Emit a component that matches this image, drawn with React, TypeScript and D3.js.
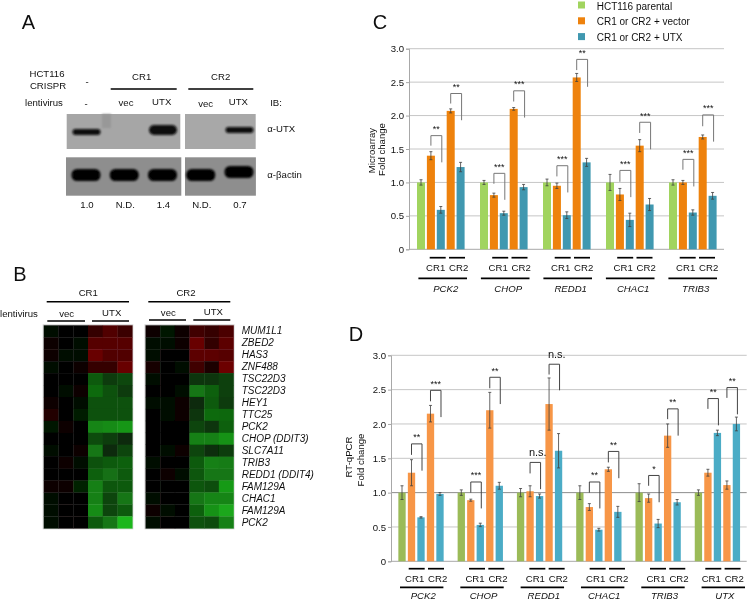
import React, { useEffect, useRef } from "react";
import * as d3 from "d3";

const FONT = "'Liberation Sans', Arial, sans-serif";
const TEXT = "#111";

// panel A
const blotLanes = ["parental", "CR1 vec", "CR1 UTX", "CR2 vec", "CR2 UTX"];
const utxLevels = [1.0, 0, 1.4, 0, 0.7];
const utxLabels = ["1.0", "N.D.", "1.4", "N.D.", "0.7"];

// panel B
const heatGenes = [
  "MUM1L1", "ZBED2", "HAS3", "ZNF488", "TSC22D3", "TSC22D3", "HEY1", "TTC25", "PCK2",
  "CHOP (DDIT3)", "SLC7A11", "TRIB3", "REDD1 (DDIT4)", "FAM129A", "CHAC1", "FAM129A", "PCK2",
];
const heatCR1 = [
  [-0.05, 0.03, 0.02, 0.5, 0.75, 0.55],
  [0.1, 0.05, -0.04, 0.8, 0.8, 0.8],
  [0.15, -0.04, -0.04, 0.95, 0.75, 0.75],
  [-0.04, -0.03, 0.08, 0.5, 0.5, 0.95],
  [0, -0.03, 0.05, -0.42, -0.27, -0.33],
  [0, -0.04, 0.08, -0.5, -0.38, -0.27],
  [0.1, 0.02, -0.07, -0.38, -0.38, -0.38],
  [0.3, 0.02, -0.12, -0.38, -0.38, -0.38],
  [-0.1, 0.1, 0.03, -0.62, -0.65, -0.7],
  [0, 0.03, 0.03, -0.35, -0.28, -0.2],
  [-0.06, 0.05, 0.07, -0.55, -0.2, -0.32],
  [-0.02, 0.08, -0.05, -0.38, -0.42, -0.45],
  [-0.01, 0.06, -0.03, -0.45, -0.52, -0.42],
  [0.13, 0.13, -0.16, -0.6, -0.4, -0.42],
  [-0.05, 0.04, -0.02, -0.6, -0.32, -0.55],
  [-0.05, 0.04, 0, -0.65, -0.32, -0.42],
  [-0.08, 0.04, 0.06, -0.42, -0.55, -0.85],
];
const heatCR2 = [
  [0.1, -0.1, 0.1, 0.6, 0.5, 0.7],
  [-0.04, -0.06, 0.1, 0.95, 0.45, 0.85],
  [-0.05, 0.06, 0.03, 0.85, 0.85, 0.8],
  [0.2, -0.03, -0.05, 0.6, 0.25, 1],
  [-0.05, 0.05, 0.02, -0.25, -0.25, -0.3],
  [0.05, 0.05, -0.04, -0.55, -0.45, -0.3],
  [-0.04, -0.05, 0.1, -0.2, -0.42, -0.27],
  [-0.03, -0.04, 0.1, -0.25, -0.5, -0.48],
  [-0.02, -0.01, 0, -0.32, -0.25, -0.45],
  [-0.02, 0.03, 0.01, -0.6, -0.6, -0.68],
  [-0.02, -0.06, 0.08, -0.32, -0.22, -0.28],
  [-0.05, 0.06, 0.01, -0.42, -0.6, -0.58],
  [0.02, 0.08, -0.08, -0.4, -0.55, -0.55],
  [0.03, -0.03, 0, -0.4, -0.36, -0.72],
  [-0.06, 0.06, 0, -0.55, -0.62, -0.62],
  [0.08, -0.04, -0.02, -0.45, -0.68, -0.78],
  [-0.05, 0.06, 0, -0.38, -0.35, -0.6],
];

// panels C and D
const seriesNames = ["HCT116 parental", "CR1 or CR2 + vector", "CR1 or CR2 + UTX"];
const barSlots = ["parental", "CR1 vec", "CR1 UTX", "CR2 vec", "CR2 UTX"];
const yTicks = [0, 0.5, 1, 1.5, 2, 2.5, 3];

const microGenes = ["PCK2", "CHOP", "REDD1", "CHAC1", "TRIB3"];
const microValues = [
  [1.0, 1.4, 0.59, 2.07, 1.23],
  [1.0, 0.81, 0.54, 2.1, 0.93],
  [1.0, 0.95, 0.51, 2.57, 1.3],
  [1.0, 0.82, 0.44, 1.55, 0.67],
  [1.0, 1.0, 0.55, 1.68, 0.8],
];
const microErrors = [
  [0.04, 0.06, 0.05, 0.03, 0.07],
  [0.03, 0.03, 0.03, 0.02, 0.04],
  [0.05, 0.04, 0.05, 0.06, 0.06],
  [0.12, 0.09, 0.1, 0.09, 0.09],
  [0.04, 0.03, 0.04, 0.03, 0.05],
];
const microSig = [
  ["**", "**"],
  ["***", "***"],
  ["***", "**"],
  ["***", "***"],
  ["***", "***"],
];
// bracket top, left leg end, right leg end on the fold change axis
const microBrackets = [
  [[1.7, 1.55, 1.3], [2.33, 2.18, 1.93]],
  [[1.136, 0.98, 0.74], [2.37, 2.21, 1.97]],
  [[1.25, 1.09, 0.85], [2.84, 2.68, 2.43]],
  [[1.18, 1.01, 0.78], [1.9, 1.74, 1.495]],
  [[1.345, 1.19, 0.94], [2.01, 1.84, 1.61]],
];

const qpcrGenes = ["PCK2", "CHOP", "REDD1", "CHAC1", "TRIB3", "UTX"];
const qpcrValues = [
  [1.0, 1.29, 0.64, 2.15, 0.98],
  [1.0, 0.89, 0.53, 2.2, 1.1],
  [1.0, 1.02, 0.95, 2.29, 1.61],
  [1.0, 0.79, 0.46, 1.34, 0.72],
  [1.0, 0.92, 0.55, 1.83, 0.86],
  [1.0, 1.29, 1.87, 1.11, 2.0],
];
const qpcrErrors = [
  [0.1, 0.19, 0.01, 0.12, 0.02],
  [0.04, 0.015, 0.025, 0.26, 0.05],
  [0.06, 0.08, 0.03, 0.38, 0.25],
  [0.1, 0.05, 0.02, 0.03, 0.08],
  [0.13, 0.06, 0.06, 0.17, 0.04],
  [0.04, 0.05, 0.04, 0.06, 0.1],
];
const qpcrSig = [
  ["**", "***"],
  ["***", "**"],
  ["n.s.", "n.s."],
  ["**", "**"],
  ["*", "**"],
  ["**", "**"],
];
const qpcrBrackets = [
  [[1.71, 1.55, 1.32], [2.49, 2.33, 2.1]],
  [[1.155, 1.0, 0.77], [2.68, 2.52, 2.29]],
  [[1.44, 1.28, 1.05], [2.87, 2.72, 2.49]],
  [[1.155, 1.0, 0.77], [1.6, 1.44, 1.21]],
  [[1.25, 1.1, 0.86], [2.22, 2.07, 1.83]],
  [[2.37, 2.22, 1.98], [2.53, 2.38, 2.14]],
];

const BarPanel = ({ genes, values, errors, sig, brackets, colors, layout, yTitle }: any) => {
  const ref = useRef<SVGGElement>(null);

  useEffect(() => {
    if (!ref.current) return;
    const g = d3.select(ref.current);
    g.selectAll("*").remove();

    const { left, right, top, bottom } = layout;
    const x = d3.scaleBand().domain(genes).range([left, right]);
    const inner = d3
      .scaleBand()
      .domain(barSlots)
      .range(layout.innerRange)
      .paddingInner(layout.innerPad);
    const y = d3.scaleLinear().domain([0, 3]).range([bottom, top]);
    const color = d3
      .scaleOrdinal<string>()
      .domain(barSlots)
      .range([colors[0], colors[1], colors[2], colors[1], colors[2]]);
    const barX = (gene: string, slot: string) => (x(gene) || 0) + (inner(slot) || 0);
    const barMid = (gene: string, slot: string) => barX(gene, slot) + inner.bandwidth() / 2;

    // grid
    g.append("g")
      .selectAll("line")
      .data(yTicks.slice(1))
      .enter()
      .append("line")
      .attr("x1", left)
      .attr("x2", right)
      .attr("y1", (d) => y(d))
      .attr("y2", (d) => y(d))
      .attr("stroke", (d) => (d === 1 && layout.darkUnit ? "#8c8c8c" : "#c6c6c6"))
      .attr("stroke-width", 1);

    // axis
    const axis = g
      .append("g")
      .attr("transform", `translate(${left},0)`)
      .call(
        d3
          .axisLeft(y)
          .tickValues(yTicks)
          .tickSize(3)
          .tickPadding(2)
          .tickFormat((d: any) => (d === 0 ? "0" : d.toFixed(1)))
      );
    axis.selectAll("path,line").attr("stroke", "#a8a8a8");
    axis.selectAll("text").attr("font-family", FONT).attr("font-size", 9.6).attr("fill", TEXT);
    g.append("line")
      .attr("x1", left)
      .attr("x2", right)
      .attr("y1", bottom)
      .attr("y2", bottom)
      .attr("stroke", "#a8a8a8");

    // bars and error bars
    genes.forEach((gene: string, i: number) => {
      barSlots.forEach((slot, j) => {
        const v = values[i][j];
        const e = errors[i][j];
        const cx = barMid(gene, slot);
        g.append("rect")
          .attr("x", barX(gene, slot))
          .attr("y", y(v))
          .attr("width", inner.bandwidth())
          .attr("height", bottom - y(v))
          .attr("fill", color(slot));
        g.append("path")
          .attr("d", `M${cx - 1.5},${y(v + e)}h3M${cx},${y(v + e)}V${y(v - e)}M${cx - 1.5},${y(v - e)}h3`)
          .attr("fill", "none")
          .attr("stroke", "#404040")
          .attr("stroke-width", 0.8);
      });

      // significance brackets
      [[1, 2], [3, 4]].forEach((pair, k) => {
        const [t, l, r] = brackets[i][k];
        const x0 = barMid(gene, barSlots[pair[0]]);
        const x1 = barMid(gene, barSlots[pair[1]]) + 1;
        g.append("path")
          .attr("d", `M${x0},${y(l)}V${y(t)}H${x1}V${y(r)}`)
          .attr("fill", "none")
          .attr("stroke", layout.bracketColor)
          .attr("stroke-width", 1);
        const ns = sig[i][k] === "n.s.";
        g.append("text")
          .attr("x", (x0 + x1) / 2 + (ns ? 2.5 : 0))
          .attr("y", y(t) - (ns ? 6 : 3.5))
          .attr("text-anchor", "middle")
          .attr("font-family", FONT)
          .attr("font-size", ns ? 11 : 9)
          .attr("fill", TEXT)
          .text(sig[i][k]);
      });
    });

    // CR1 / CR2 and gene labels under the axis
    const under = d3.scalePoint().domain(genes).range(layout.underRange);
    const drawLine = (x0: number, x1: number, yy: number) =>
      g.append("line")
        .attr("x1", x0)
        .attr("x2", x1)
        .attr("y1", yy)
        .attr("y2", yy)
        .attr("stroke", "#000")
        .attr("stroke-width", 1.7);
    const drawText = (s: string, xx: number, yy: number, italic = false) =>
      g.append("text")
        .attr("x", xx)
        .attr("y", yy)
        .attr("text-anchor", "middle")
        .attr("font-family", FONT)
        .attr("font-size", 9.6)
        .attr("font-style", italic ? "italic" : "normal")
        .attr("fill", TEXT)
        .text(s);
    genes.forEach((gene: string, i: number) => {
      const c = under(gene) || 0;
      const nudge = layout.shortNudge[i] || 0;
      drawLine(c - 5 + nudge - 8, c - 5 + nudge + 8, layout.shortY);
      drawLine(c + 14.3 + nudge - 8, c + 14.3 + nudge + 8, layout.shortY);
      drawText("CR1", c - 7 + nudge, layout.crY);
      drawText("CR2", c + 16 + nudge, layout.crY);
      drawLine(c - layout.longHalf, c + layout.longHalf, layout.longY);
      drawText(gene, c + layout.geneDx, layout.geneY, true);
    });

    // y title
    yTitle.forEach((t: any) => {
      g.append("text")
        .attr("transform", `translate(${t.x},${t.y}) rotate(-90)`)
        .attr("text-anchor", "middle")
        .attr("font-family", FONT)
        .attr("font-size", 9.6)
        .attr("fill", TEXT)
        .text(t.label);
    });
  }, [genes, values, errors, sig, brackets, colors, layout, yTitle]);

  return <g ref={ref} />;
};

const Heat = ({ data, x0, x1, top, bottom, rows, color }: any) => {
  const x = d3.scaleBand().domain(d3.range(6).map(String)).range([x0, x1]);
  const y = d3.scaleBand().domain(d3.range(rows.length).map(String)).range([top, bottom]);
  return (
    <g>
      <rect x={x0 - 0.5} y={top - 0.5} width={x1 - x0 + 1} height={bottom - top + 1} fill="none" stroke="#cfcfcf" />
      {data.map((row: number[], r: number) =>
        row.map((v, c) => (
          <rect
            key={`${r}-${c}`}
            x={x(String(c))}
            y={y(String(r))}
            width={x.bandwidth() + 0.3}
            height={y.bandwidth() + 0.3}
            fill={color(v)}
          />
        ))
      )}
    </g>
  );
};

const Label = ({ x, y, children, size = 9.6, anchor = "middle", italic = false }: any) => (
  <text
    x={x}
    y={y}
    fontFamily={FONT}
    fontSize={size}
    textAnchor={anchor}
    fontStyle={italic ? "italic" : "normal"}
    fill={TEXT}
  >
    {children}
  </text>
);

const Rule = ({ x1, x2, y, w = 1.5 }: any) => <line x1={x1} x2={x2} y1={y} y2={y} stroke="#000" strokeWidth={w} />;

const microLayout = {
  left: 409,
  right: 724,
  top: 48.7,
  bottom: 249.3,
  innerRange: [8, 55.6],
  innerPad: 0.19,
  underRange: [442.7, 692.7],
  shortNudge: [0, 0, 0, 0, 0],
  longHalf: 24.3,
  shortY: 257.7,
  crY: 271,
  longY: 278.3,
  geneY: 292.3,
  geneDx: 3,
  bracketColor: "#777",
  darkUnit: false,
};

const qpcrLayout = {
  left: 391,
  right: 746.7,
  top: 355.3,
  bottom: 561.3,
  innerRange: [7.35, 52.65],
  innerPad: 0.23,
  underRange: [421.7, 723.3],
  shortNudge: [0, 0, 0, 0, 0, -5],
  longHalf: 21.7,
  shortY: 568.7,
  crY: 582,
  longY: 587.3,
  geneY: 599,
  geneDx: 1.5,
  bracketColor: "#444",
  darkUnit: true,
};

const microColors = ["#a1d45f", "#ee8208", "#3f98b0"];
const qpcrColors = ["#9bbb59", "#f79646", "#4bacc6"];
const microTitle = [
  { label: "Microarray", x: 374.7, y: 150.5 },
  { label: "Fold change", x: 385, y: 149.5 },
];
const qpcrTitle = [
  { label: "RT-qPCR", x: 352, y: 457 },
  { label: "Fold change", x: 364, y: 460 },
];

export default function App() {
  const lane = d3.scalePoint().domain(blotLanes).range([86, 239]);
  const utxHeight = d3.scaleLinear().domain([0.7, 1.0, 1.4]).range([6, 6, 10]);
  const heatColor = d3
    .scaleLinear<string>()
    .domain([-1, 0, 1])
    .range(["#22d622", "#000000", "#6c0006"]);
  const actinY = [175, 175, 175, 175, 172];
  const utxY = [132, 130, 130, 130, 130];

  return (
    <svg width={754} height={604} style={{ position: "absolute", left: 0, top: 0 }}>
      <defs>
        <filter id="bandBlur" x="-30%" y="-60%" width="160%" height="220%">
          <feGaussianBlur stdDeviation="0.8" />
        </filter>
        <filter id="soft" x="0" y="0" width="100%" height="100%">
          <feGaussianBlur stdDeviation="0.35" />
        </filter>
      </defs>
      <rect width={754} height={604} fill="#fff" />

      <g filter="url(#soft)">
        <rect width={754} height={604} fill="#fff" />

        {/* panel letters */}
        <Label x={28.5} y={29} size={20}>A</Label>
        <Label x={20} y={281} size={20}>B</Label>
        <Label x={380} y={28.5} size={20}>C</Label>
        <Label x={356} y={341} size={20}>D</Label>

        {/* A: blot */}
        <Label x={47} y={77}>HCT116</Label>
        <Label x={48} y={89}>CRISPR</Label>
        <Label x={87} y={85}>-</Label>
        <Label x={44} y={106}>lentivirus</Label>
        <Label x={86} y={107}>-</Label>
        <Label x={141.7} y={80}>CR1</Label>
        <Label x={220.7} y={80}>CR2</Label>
        <Rule x1={110.7} x2={176.7} y={89} />
        <Rule x1={188.3} x2={253.3} y={89} />
        <Label x={126} y={106}>vec</Label>
        <Label x={161.7} y={105}>UTX</Label>
        <Label x={205.7} y={107}>vec</Label>
        <Label x={238.3} y={105}>UTX</Label>
        <Label x={276} y={106}>IB:</Label>
        <Label x={267.3} y={132} anchor="start">α-UTX</Label>
        <Label x={267.3} y={178} anchor="start">α-βactin</Label>

        <rect x={66.7} y={114} width={113.6} height={35} fill="#a6a6a6" />
        <rect x={185} y={114} width={70.7} height={35} fill="#a8a8a8" />
        <rect x={66} y={157.3} width={115.3} height={38.4} fill="#8e8e8e" />
        <rect x={185} y={157.3} width={70.9} height={38.4} fill="#8e8e8e" />
        <rect x={102} y={114} width={9} height={14} fill="#989898" filter="url(#bandBlur)" />
        {blotLanes.map((l, i) =>
          utxLevels[i] > 0 ? (
            <rect
              key={l}
              x={(lane(l) || 0) - 13.5}
              y={utxY[i] - utxHeight(utxLevels[i]) / 2}
              width={28}
              height={utxHeight(utxLevels[i])}
              rx={utxHeight(utxLevels[i]) / 2}
              fill="#0c0c0c"
              filter="url(#bandBlur)"
            />
          ) : null
        )}
        {blotLanes.map((l, i) => (
          <rect
            key={l}
            x={(lane(l) || 0) - 14.5}
            y={actinY[i] - 6}
            width={29}
            height={12}
            rx={5.5}
            fill="#050505"
            filter="url(#bandBlur)"
          />
        ))}
        {blotLanes.map((l, i) => (
          <Label key={l} x={(lane(l) || 0) + 1} y={208.3}>{utxLabels[i]}</Label>
        ))}

        {/* B: heat map */}
        <Label x={88.3} y={296}>CR1</Label>
        <Label x={186} y={296}>CR2</Label>
        <Rule x1={46.7} x2={129} y={301.7} />
        <Rule x1={148.3} x2={230.3} y={301.7} />
        <Label x={19} y={317}>lentivirus</Label>
        <Label x={66.7} y={317}>vec</Label>
        <Label x={111.7} y={316}>UTX</Label>
        <Label x={168.3} y={316}>vec</Label>
        <Label x={213.3} y={315}>UTX</Label>
        <Rule x1={47.3} x2={85} y={321} />
        <Rule x1={92} x2={129} y={321} />
        <Rule x1={149} x2={186} y={320} />
        <Rule x1={193.3} x2={230.3} y={320} />
        <Heat data={heatCR1} x0={43.7} x1={132.3} top={325.3} bottom={528.3} rows={heatGenes} color={heatColor} />
        <Heat data={heatCR2} x0={145.5} x1={233.5} top={325.3} bottom={528.3} rows={heatGenes} color={heatColor} />
        {heatGenes.map((gene, i) => (
          <Label key={`${gene}-${i}`} x={241.7} y={333.6 + i * 12} size={10} anchor="start" italic>
            {gene}
          </Label>
        ))}

        {/* legend */}
        {seriesNames.map((name, i) => (
          <g key={name}>
            <rect x={578} y={1.5 + i * 15.8} width={7} height={7} fill={microColors[i]} />
            <Label x={596.7} y={9.5 + i * 15.7} size={10} anchor="start">{name}</Label>
          </g>
        ))}

        {/* C and D: bars */}
        <BarPanel
          genes={microGenes}
          values={microValues}
          errors={microErrors}
          sig={microSig}
          brackets={microBrackets}
          colors={microColors}
          layout={microLayout}
          yTitle={microTitle}
        />
        <BarPanel
          genes={qpcrGenes}
          values={qpcrValues}
          errors={qpcrErrors}
          sig={qpcrSig}
          brackets={qpcrBrackets}
          colors={qpcrColors}
          layout={qpcrLayout}
          yTitle={qpcrTitle}
        />
      </g>
    </svg>
  );
}
